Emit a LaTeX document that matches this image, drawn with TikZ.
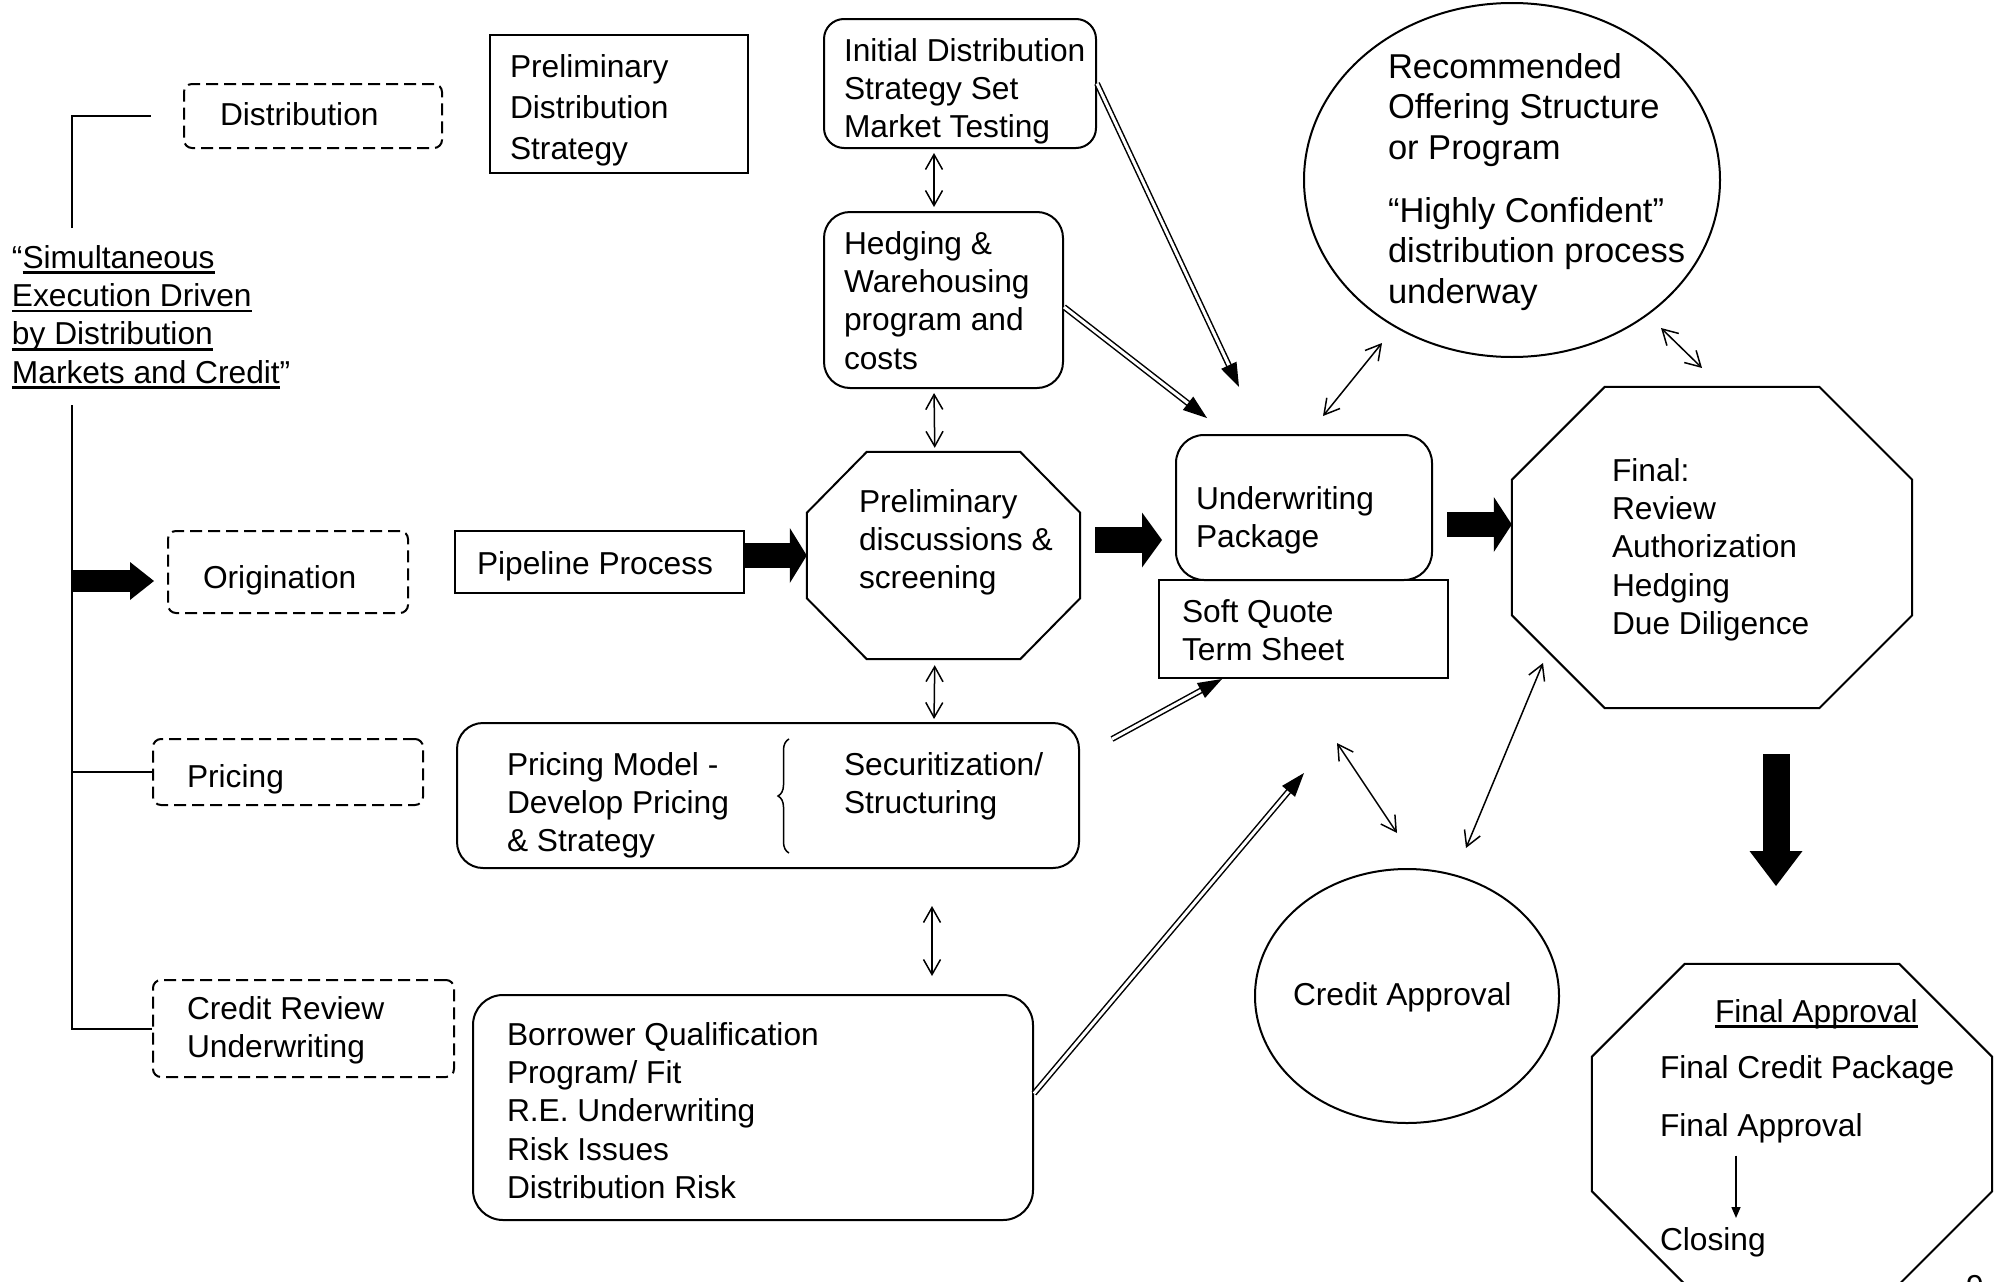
\documentclass[tikz,border=0pt]{standalone}
\usepackage{fontspec}
\setmainfont{Liberation Sans}
\usetikzlibrary{arrows.meta,calc,shapes.geometric,decorations.pathreplacing}
\newcommand\Tst{\rule{0pt}{24pt}}
\newcommand\Tbig{\rule{0pt}{26pt}}
\newcommand\myul[1]{\begingroup\setbox0\hbox{#1}\rlap{\rule[-5.7pt]{\wd0}{2.6pt}}\box0\endgroup}
\newcommand\octagon[3]{\draw[shp] ([xshift=#2]#1.north west) -- ([xshift=-#2]#1.north east) -- ([yshift=-#3]#1.north east) -- ([yshift=#3]#1.south east) -- ([xshift=-#2]#1.south east) -- ([xshift=#2]#1.south west) -- ([yshift=#3]#1.south west) -- ([yshift=-#3]#1.north west) -- cycle;}
\newcommand\dblarrow[2]{%
  \draw[dshaft, shorten >=18pt] (#1) -- (#2);
  \coordinate (tipback) at ($(#2)!24pt!(#1)$);
  \fill (#2) -- ($(tipback)!8.5pt!90:(#2)$) -- ($(tipback)!8.5pt!-90:(#2)$) -- cycle;}
\begin{document}
\begin{tikzpicture}[x=1pt,y=-1pt,
  ft/.style={font=\fontsize{31.7}{38.4}\selectfont},
  tx/.style={inner sep=0pt, outer sep=0pt, anchor=north west, align=left, ft},
  shp/.style={draw, line width=2pt},
  wh/.style 2 args={minimum width=#1, minimum height=#2},
  sbox/.style={shp, rectangle, inner sep=0pt},
  rbox/.style={shp, rectangle, inner sep=0pt, rounded corners=#1},
  dbox/.style={draw, line width=2pt, dash pattern=on 12pt off 6pt, rounded corners=8pt, rectangle, inner sep=0pt},
  hold/.style={rectangle, inner sep=0pt},
  ell/.style={shp, ellipse, inner sep=0pt},
  tree/.style={line width=2pt},
  bi/.style={line width=1.5pt, {Straight Barb[length=15pt,width=17pt]}-{Straight Barb[length=15pt,width=17pt]}},
  dshaft/.style={double, double distance=3pt, line width=1.5pt},
  blk/.style n args={3}{line width=#1, -{Triangle[width=#2, length=#3, line width=0pt]}},
]
\useasboundingbox (0,0) rectangle (1997,1282);

% shapes
\node[dbox, wh={258pt}{64pt}] (dist) at (313,116) {};
\node[dbox, wh={240pt}{82pt}] (orig) at (288,572) {};
\node[dbox, wh={270pt}{66pt}] (pric) at (288,772) {};
\node[dbox, wh={301pt}{97pt}] (cred) at (303.5,1028.5) {};
\node[sbox, wh={258pt}{138pt}] (pds) at (619,104) {};
\node[rbox=20pt, wh={272pt}{129pt}] (init) at (960,83.5) {};
\node[rbox=26pt, wh={239pt}{176pt}] (hedge) at (943.5,300) {};
\node[sbox, wh={289pt}{62pt}] (pipe) at (599.5,562) {};
\node[hold, wh={273pt}{207pt}] (oct1) at (943.5,555.5) {};
\node[rbox=26pt, wh={622pt}{145pt}] (pmod) at (768,795.5) {};
\node[rbox=28pt, wh={256pt}{145pt}] (uwp) at (1304,507.5) {};
\node[sbox, wh={289pt}{98pt}] (soft) at (1303.5,629) {};
\node[hold, wh={400pt}{321pt}] (fin) at (1712,547.5) {};
\node[ell, wh={416pt}{354pt}] (rec) at (1512,180) {};
\node[ell, wh={304pt}{254pt}] (capp) at (1407,996) {};
\node[hold, wh={400pt}{320pt}] (fapp) at (1792,1124) {};
\node[rbox=30pt, wh={560pt}{225pt}] (bor) at (753,1107.5) {};
\octagon{oct1}{60pt}{61pt}
\octagon{fin}{93pt}{93pt}
\octagon{fapp}{93pt}{93pt}
\draw[line width=1.5pt, decorate, decoration={brace, amplitude=11pt}] (789,853) -- (789,739);

% texts
\node[tx] (t-dist) at (220,101) {\Tst Distribution};
\node[tx] (t-sim) at (12,244) {\Tst“\myul{Simultaneous}\\\myul{Execution Driven}\\\myul{by Distribution}\\\myul{Markets and Credit}”};
\node[tx] (t-pds) at (510,53.5) {\Tst Preliminary\\[2.6pt]Distribution\\[2.6pt]Strategy};
\node[tx] (t-init) at (844,37) {\Tst Initial Distribution\\Strategy Set\\Market Testing};
\node[tx] (t-hedge) at (844,230) {\Tst Hedging \&\\Warehousing\\program and\\costs};
\node[tx] (t-pipe) at (477,550) {\Tst Pipeline Process};
\node[tx] (t-orig) at (203,564) {\Tst Origination};
\node[tx] (t-pric) at (187,763) {\Tst Pricing};
\node[tx] (t-cred) at (187,995.5) {\Tst Credit Review\\Underwriting};
\node[tx] (t-oct1) at (859,488) {\Tst Preliminary\\discussions \&\\screening};
\node[tx] (t-pm) at (507,751) {\Tst Pricing Model -\\Develop Pricing\\\& Strategy};
\node[tx] (t-sec) at (844,751) {\Tst Securitization/\\Structuring};
\node[tx] (t-uwp) at (1196,485) {\Tst Underwriting\\Package};
\node[tx] (t-soft) at (1182,598) {\Tst Soft Quote\\Term Sheet};
\node[tx] (t-fin) at (1612,457) {\Tst Final:\\Review\\Authorization\\Hedging\\Due Diligence};
\node[tx, font=\fontsize{34.5}{40.5}\selectfont] (t-rec) at (1388,52) {\Tbig Recommended\\Offering Structure\\or Program\\[22.5pt]“Highly Confident”\\distribution process\\underway};
\node[tx] (t-bor) at (507,1021) {\Tst Borrower Qualification\\Program/ Fit\\R.E. Underwriting\\Risk Issues\\Distribution Risk};
\node[tx] (t-capp) at (1293,981) {\Tst Credit Approval};
\node[tx] (t-fa1) at (1715,998) {\Tst\myul{Final Approval}};
\node[tx] (t-fa2) at (1660,1054) {\Tst Final Credit Package};
\node[tx] (t-fa3) at (1660,1112) {\Tst Final Approval};
\node[tx] (t-close) at (1660,1226) {\Tst Closing};
\node[tx] (t-pg) at (1966,1273) {\Tst 9};

% tree lines
\coordinate (c-top) at (72,228);
\coordinate (c-spine) at (72,405);
\draw[tree] (c-top) |- ([xshift=-32pt]dist.west);
\draw[tree] (c-spine) |- (cred.west);
\draw[tree] (c-spine |- pric.west) -- (pric.west);

% block arrows
\coordinate (c-o1) at (72,581);
\coordinate (c-o2) at (154,581);
\draw[blk={22pt}{38pt}{24pt}] (c-o1) -- (c-o2);
\draw[blk={25pt}{55pt}{17pt}] (pipe.east |- oct1.west) -- (oct1.west);
\coordinate (c-a1) at (1095,540);
\coordinate (c-a2) at (1162,540);
\draw[blk={26pt}{55pt}{20pt}] (c-a1) -- (c-a2);
\coordinate (c-a3) at (1447,524.5);
\draw[blk={25pt}{55pt}{18pt}] (c-a3) -- (fin.west |- c-a3);
\coordinate (c-d1) at (1776,754);
\coordinate (c-d2) at (1776,886);
\draw[blk={27pt}{53pt}{35pt}] (c-d1) -- (c-d2);

% double-line arrows
\coordinate (c-i1) at (1239,387);
\coordinate (c-h0) at ([yshift=-7pt]hedge.east);
\coordinate (c-h1) at (1207,418);
\coordinate (c-p0) at (1112,739);
\coordinate (c-p1) at ([xshift=64pt]soft.south west);
\coordinate (c-b0) at ([yshift=14pt]bor.east);
\coordinate (c-b1) at (1304,773);
\dblarrow{init.east}{c-i1}
\dblarrow{c-h0}{c-h1}
\dblarrow{c-p0}{c-p1}
\dblarrow{c-b0}{c-b1}

% two-headed arrows
\draw[bi, shorten <=4pt, shorten >=4pt] ([xshift=111pt]init.south west) -- ([xshift=111pt]hedge.north west);
\draw[bi, shorten <=4pt, shorten >=4pt] ([xshift=111pt]hedge.south west) -- ([xshift=128pt]oct1.north west);
\draw[bi, shorten <=6pt, shorten >=3pt] ([xshift=128pt]oct1.south west) -- ([xshift=478pt]pmod.north west);
\draw[bi, shorten <=37pt, shorten >=18pt] ([xshift=476pt]pmod.south west) -- ([xshift=460pt]bor.north west);
\coordinate (c-m1) at (1323,416);
\coordinate (c-m2) at (1382,343);
\coordinate (c-n1) at (1661,328);
\coordinate (c-n2) at (1702,368);
\coordinate (c-r1) at (1337,743);
\coordinate (c-r2) at (1397,833);
\coordinate (c-q1) at (1466,848);
\coordinate (c-q2) at (1543,663);
\draw[bi] (c-m1) -- (c-m2);
\draw[bi] (c-n1) -- (c-n2);
\draw[bi] (c-r1) -- (c-r2);
\draw[bi] (c-q1) -- (c-q2);

% inner arrow of final approval
\draw[line width=1.5pt, -{Triangle[length=11pt,width=9pt]}, shorten <=13pt, shorten >=8pt] ([xshift=76pt]t-fa3.south west) -- ([xshift=76pt]t-close.north west);
\end{tikzpicture}
\end{document}
